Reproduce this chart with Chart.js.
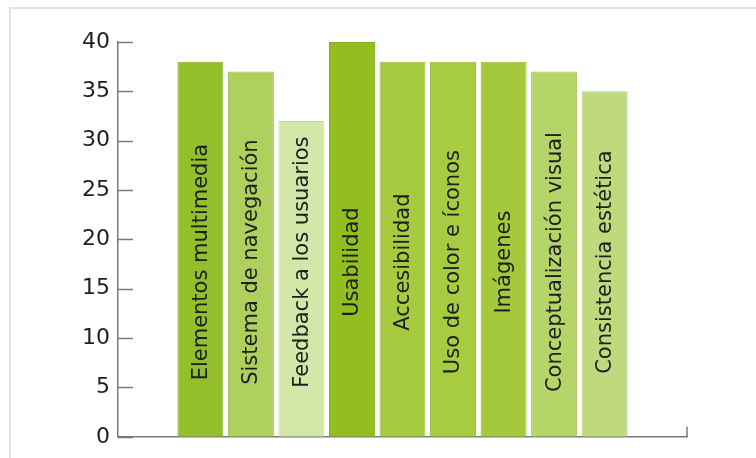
<!DOCTYPE html>
<html lang="es">
<head>
    <meta charset="UTF-8">
    <title>Evaluación de criterios</title>
    <script src="https://cdn.jsdelivr.net/npm/chart.js"></script>
    <style>
        body {
            margin: 0;
            background-color: #fff;
        }
        .wrap {
            position: relative;
            width: 756px;
            height: 458px;
            overflow: hidden;
        }
        .frame {
            position: absolute;
            left: 9px;
            top: 7px;
            width: 800px;
            height: 500px;
            border-left: 2px solid #e3e3e3;
            border-top: 2px solid #e3e3e3;
        }
        canvas {
            position: absolute;
            left: 0;
            top: 0;
        }
    </style>
</head>
<body>
    <div class="wrap">
        <div class="frame"></div>
        <canvas id="chart" width="756" height="458"></canvas>
    </div>

    <script>
        const categories = [
            'Elementos multimedia',
            'Sistema de navegación',
            'Feedback a los usuarios',
            'Usabilidad',
            'Accesibilidad',
            'Uso de color e íconos',
            'Imágenes',
            'Conceptualización visual',
            'Consistencia estética'
        ];
        const values = [38, 37, 32, 40, 38, 38, 38, 37, 35];
        const barColors = ['#93bf2c', '#afd05c', '#d3e7a8', '#92bf1f', '#a6cb3f', '#a7cc40', '#a4c93d', '#b6d568', '#bfda7c'];
        const edgeColors = ['#86ad27', '#a0bf52', '#c3d89a', '#86af1b', '#98bb39', '#99bc3a', '#96b838', '#a8c55f', '#b0ca72'];
        const yTicks = [0, 5, 10, 15, 20, 25, 30, 35, 40];

        // posición vertical (en unidades del eje) donde se centra el texto de cada barra
        const labelMid = 17.7;

        const insideTicks = {
            id: 'insideTicks',
            afterDraw(chart) {
                const { ctx, chartArea, scales } = chart;
                ctx.save();
                ctx.strokeStyle = '#7a7a7a';
                ctx.lineWidth = 1.5;
                yTicks.forEach(v => {
                    const y = Math.round(scales.y.getPixelForValue(v)) + 0.5;
                    ctx.beginPath();
                    ctx.moveTo(chartArea.left, y);
                    ctx.lineTo(chartArea.left + 15, y);
                    ctx.stroke();
                });
                // pequeña marca al final del eje x
                ctx.beginPath();
                ctx.moveTo(chartArea.right, chartArea.bottom);
                ctx.lineTo(chartArea.right, chartArea.bottom - 10);
                ctx.stroke();
                ctx.restore();
            }
        };

        const barLabels = {
            id: 'barLabels',
            afterDatasetsDraw(chart) {
                const { ctx, scales } = chart;
                const meta = chart.getDatasetMeta(0);
                const yMid = scales.y.getPixelForValue(labelMid);
                ctx.save();
                ctx.fillStyle = '#1e1e1e';
                ctx.font = '21px "DejaVu Sans", sans-serif';
                ctx.textAlign = 'center';
                ctx.textBaseline = 'middle';
                meta.data.forEach((bar, i) => {
                    ctx.save();
                    ctx.translate(bar.x, yMid);
                    ctx.rotate(-Math.PI / 2);
                    ctx.fillText(categories[i], 0, 1);
                    ctx.restore();
                });
                ctx.restore();
            }
        };

        const ctx = document.getElementById('chart').getContext('2d');

        new Chart(ctx, {
            type: 'bar',
            data: {
                datasets: [{
                    data: values.map((v, i) => ({ x: i, y: v })),
                    backgroundColor: barColors,
                    borderColor: edgeColors,
                    borderWidth: 1,
                    borderSkipped: 'bottom',
                    barPercentage: 0.91,
                    categoryPercentage: 1
                }]
            },
            options: {
                responsive: false,
                animation: false,
                layout: {
                    padding: { left: 0, top: 42, right: 69, bottom: 12 }
                },
                plugins: {
                    legend: { display: false },
                    tooltip: { enabled: false }
                },
                scales: {
                    x: {
                        type: 'linear',
                        offset: false,
                        min: -1.63,
                        max: 9.63,
                        ticks: { display: false },
                        grid: { display: false, drawTicks: false },
                        border: { color: '#7a7a7a', width: 1.5 },
                        afterFit(scale) { scale.height = 0; }
                    },
                    y: {
                        min: 0,
                        max: 40,
                        afterBuildTicks(scale) {
                            scale.ticks = yTicks.map(v => ({ value: v }));
                        },
                        ticks: {
                            color: '#1e1e1e',
                            padding: 8,
                            font: { family: '"DejaVu Sans", sans-serif', size: 22 }
                        },
                        grid: { display: false, drawTicks: false },
                        border: { color: '#7a7a7a', width: 1.5 },
                        afterFit(scale) { scale.width = 118; }
                    }
                }
            },
            plugins: [insideTicks, barLabels]
        });
    </script>
</body>
</html>
